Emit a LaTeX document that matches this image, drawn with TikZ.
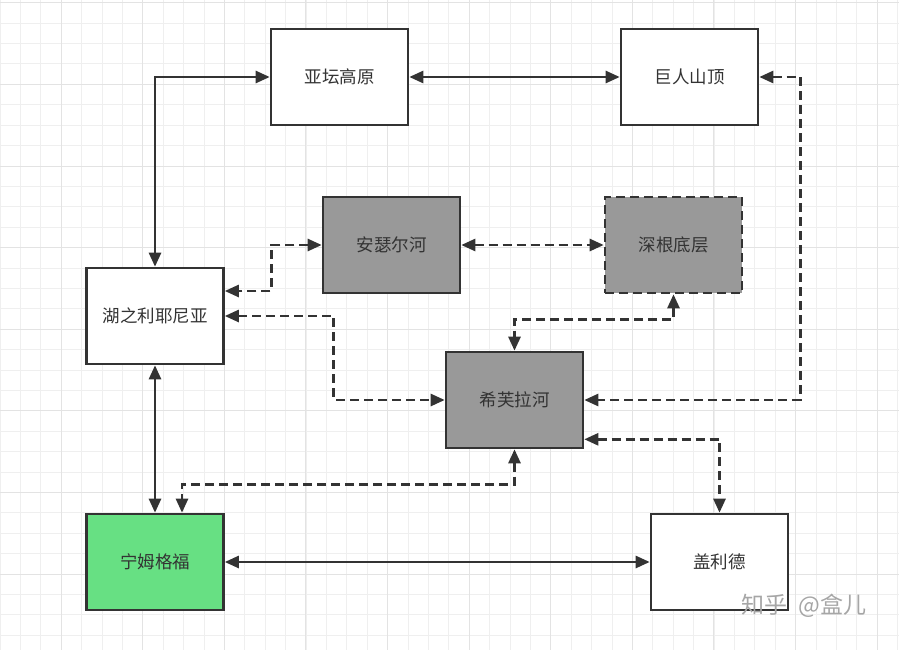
\documentclass[tikz,border=0pt]{standalone}
\usepackage{fontspec}
\newfontfamily\cjk{Noto Sans CJK SC}
\usetikzlibrary{arrows.meta,positioning,calc}
\definecolor{linegray}{HTML}{333333}
\definecolor{boxgray}{HTML}{999999}
\definecolor{boxgreen}{HTML}{67E083}
\definecolor{minorgrid}{HTML}{EFEFEF}
\definecolor{majorgrid}{HTML}{E3E3E3}

\begin{document}
\begin{tikzpicture}[
  x=1pt, y=-1pt,
  font=\cjk\fontsize{17.5}{20}\selectfont,
  region/.style={draw=linegray, line width=2.6pt, fill=white, text=linegray,
    minimum width=137pt, minimum height=96pt, inner sep=0pt},
  river/.style={region, fill=boxgray},
  link/.style={{Triangle[length=14pt,width=12pt]}-{Triangle[length=14pt,width=12pt]},
    line width=2.6pt, draw=linegray},
  hidden/.style={link, dash pattern=on 9pt off 5pt}
]
\useasboundingbox (0,0) rectangle (899,650);
% background grid
\foreach \k in {0,...,44} {
  \draw[minorgrid, line width=1pt] (20.4*\k,0) -- (20.4*\k,650);
}
\foreach \k in {0,...,31} {
  \draw[minorgrid, line width=1pt] (0,2.8+20.4*\k) -- (899,2.8+20.4*\k);
}
\foreach \k in {0,...,10} {
  \draw[majorgrid, line width=1pt] (61+81.6*\k,0) -- (61+81.6*\k,650);
}
\foreach \k in {0,...,7} {
  \draw[majorgrid, line width=1pt] (0,2.8+81.6*\k) -- (899,2.8+81.6*\k);
}

% regions
\node[region] (yatan) at (339.5,77) {亚坛高原};
\node[region] (jushan) at (689.5,77) {巨人山顶};
\node[river] (anse) at (391.5,245) {安瑟尔河};
\node[river, dash pattern=on 9pt off 5pt] (shengen) at (673.5,245) {深根底层};
\node[region] (hu) at (155,316) {湖之利耶尼亚};
\node[river] (xifu) at (514.5,400) {希芙拉河};
\node[region, fill=boxgreen] (ningmu) at (155,562) {宁姆格福};
\node[region] (gaili) at (719.5,562) {盖利德};

% overground roads
\draw[link] (yatan) -- (jushan);
\draw[link] (yatan.west) -| (hu.north);
\draw[link] (hu) -- (ningmu);
\draw[link] (ningmu) -- (gaili);

% underground ways
\draw[hidden] (anse) -- (shengen);
\draw[hidden] (anse.west) -- ++(-50,0) |- ($(hu.east)+(0,-25)$);
\draw[hidden] (hu.east) -| ($(xifu.west)+(-111,0)$) -- (xifu.west);
\draw[hidden] (shengen.south) -- ++(0,25) -| (xifu.north);
\draw[hidden] (jushan.east) -- ++(41,0) |- (xifu.east);
\draw[hidden] ($(xifu.south east)+(0,-10)$) -| (gaili.north);
\draw[hidden] (xifu.south) -- ++(0,35) -| ($(ningmu.north)+(27,0)$);

\node[text=black!35, font=\cjk\fontsize{23}{26}\selectfont] (mark) at (804,606) {知乎\ \ @盒儿};
\end{tikzpicture}
\end{document}
